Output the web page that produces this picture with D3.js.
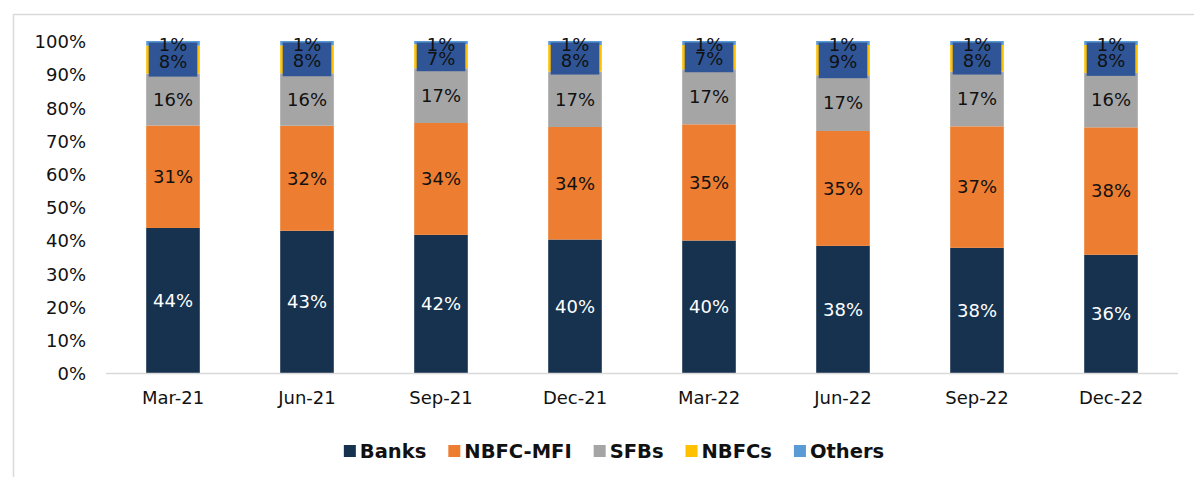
<!DOCTYPE html>
<html>
<head>
<meta charset="utf-8">
<script src="https://cdn.jsdelivr.net/npm/d3@7"></script>
<style>
  body { margin: 0; background: #fff; }
  svg text { font-family: "DejaVu Sans", Verdana, sans-serif; }
</style>
</head>
<body>
<div id="chart"></div>
<script>
// data (share of portfolio, %)
const categories = ['Mar-21','Jun-21','Sep-21','Dec-21','Mar-22','Jun-22','Sep-22','Dec-22'];
const banks   = [43.6, 42.8, 41.6, 40.2, 39.9, 38.3, 37.7, 35.6];
const nbfcMfi = [30.8, 31.6, 33.7, 33.9, 35.0, 34.6, 36.6, 38.4];
const sfbs    = [15.6, 15.8, 16.5, 16.7, 16.6, 16.8, 16.5, 16.4];
const nbfcs   = [8.4, 8.4, 7.2, 8.0, 7.3, 9.1, 8.0, 8.4];
const others  = [1.4, 1.3, 1.0, 1.2, 1.2, 1.2, 1.2, 1.2];
const seriesNames = ['Banks','NBFC-MFI','SFBs','NBFCs','Others'];
const yTicks = [0,0.1,0.2,0.3,0.4,0.5,0.6,0.7,0.8,0.9,1];

const colors = {'Banks':'#16324F','NBFC-MFI':'#ED7D31','SFBs':'#A5A5A5','NBFCs':'#FFC000','Others':'#5B9BD5'};
const labelColors = {'Banks':'#ffffff','NBFC-MFI':'#111','SFBs':'#111','NBFCs':'#111','Others':'#111'};

const W = 1194, H = 477;
const rows = categories.map((c,i)=>({
  cat:c, 'Banks':banks[i], 'NBFC-MFI':nbfcMfi[i], 'SFBs':sfbs[i], 'NBFCs':nbfcs[i], 'Others':others[i]
}));

const svg = d3.select('#chart').append('svg')
  .attr('width',W).attr('height',H);

// chart frame
svg.append('rect')
  .attr('x',13.5).attr('y',14.5).attr('width',W+20).attr('height',H+20)
  .attr('fill','none').attr('stroke','#D9D9D9').attr('stroke-width',1.5);

const x = d3.scaleBand().domain(categories).range([106,1178])
  .paddingInner(0.6).paddingOuter(0.3);
const y = d3.scaleLinear().domain([0,1]).range([373,41]);

const stack = d3.stack().keys(seriesNames).offset(d3.stackOffsetExpand);
const stacked = stack(rows);

// y axis labels
const yAxis = svg.append('g').attr('transform','translate(86,1)')
  .call(d3.axisLeft(y).tickValues(yTicks).tickFormat(d3.format('.0%')).tickSize(0).tickPadding(0));
yAxis.select('.domain').remove();
yAxis.selectAll('text').attr('font-size',18).attr('fill','#111')
  .style('font-family','"DejaVu Sans", Verdana, sans-serif');

// bars
const g = svg.append('g');
stacked.forEach(s=>{
  g.selectAll(null).data(s).enter().append('rect')
    .attr('x',d=>x(d.data.cat))
    .attr('width',x.bandwidth())
    .attr('y',d=>y(d[1]))
    .attr('height',d=>y(d[0])-y(d[1]))
    .attr('fill',colors[s.key]);
});

// dark blue label box over NBFCs + Others
const sfbLayer = stacked[2];
g.selectAll(null).data(sfbLayer).enter().append('rect')
  .attr('x',d=>x(d.data.cat)+2.5)
  .attr('width',x.bandwidth()-5)
  .attr('y',y(1)+1.5)
  .attr('height',d=>y(d[1])-y(1)+1.5)
  .attr('fill','#2F5597');

// x axis baseline
svg.append('line')
  .attr('x1',106).attr('x2',1178).attr('y1',y(0)+0.5).attr('y2',y(0)+0.5)
  .attr('stroke','#D9D9D9').attr('stroke-width',1.5);

// x axis labels
const xAxis = svg.append('g').attr('transform','translate(0,'+(y(0)+18)+')')
  .call(d3.axisBottom(x).tickSize(0).tickPadding(0));
xAxis.select('.domain').remove();
xAxis.selectAll('text').attr('font-size',18).attr('fill','#111')
  .style('font-family','"DejaVu Sans", Verdana, sans-serif');

// data labels
const fmt = v=>Math.round(v)+'%';
const lab = svg.append('g').attr('text-anchor','middle').attr('font-size',18);
stacked.forEach((s,si)=>{
  lab.selectAll(null).data(s).enter().append('text')
    .attr('x',d=>x(d.data.cat)+x.bandwidth()/2)
    .attr('y',d=>{
      if(s.key==='Others') return y(1)+4;
      if(s.key==='NBFCs') return (y(1)+y(sfbLayer.find(e=>e.data.cat===d.data.cat)[1]))/2+4;
      return (y(d[0])+y(d[1]))/2;
    })
    .attr('dy','0.35em')
    .attr('fill',labelColors[s.key])
    .text(d=>fmt(d.data[s.key]));
});

// legend
const leg = svg.append('g').attr('transform','translate(0,451)');
const items = leg.selectAll('g').data(seriesNames).enter().append('g');
items.append('rect').attr('width',12).attr('height',12).attr('y',-6)
  .attr('fill',d=>colors[d]);
items.append('text').attr('x',16).attr('dy','0.35em')
  .attr('font-size',19.5).attr('font-weight','bold').attr('fill','#111')
  .text(d=>d);
const gap = 22;
let widths = [];
items.each(function(){ widths.push(16+this.querySelector('text').getComputedTextLength()); });
const total = d3.sum(widths)+gap*(widths.length-1);
let cx = 614 - total/2;
items.each(function(d,i){
  d3.select(this).attr('transform','translate('+cx+',0)');
  cx += widths[i]+gap;
});
</script>
</body>
</html>
